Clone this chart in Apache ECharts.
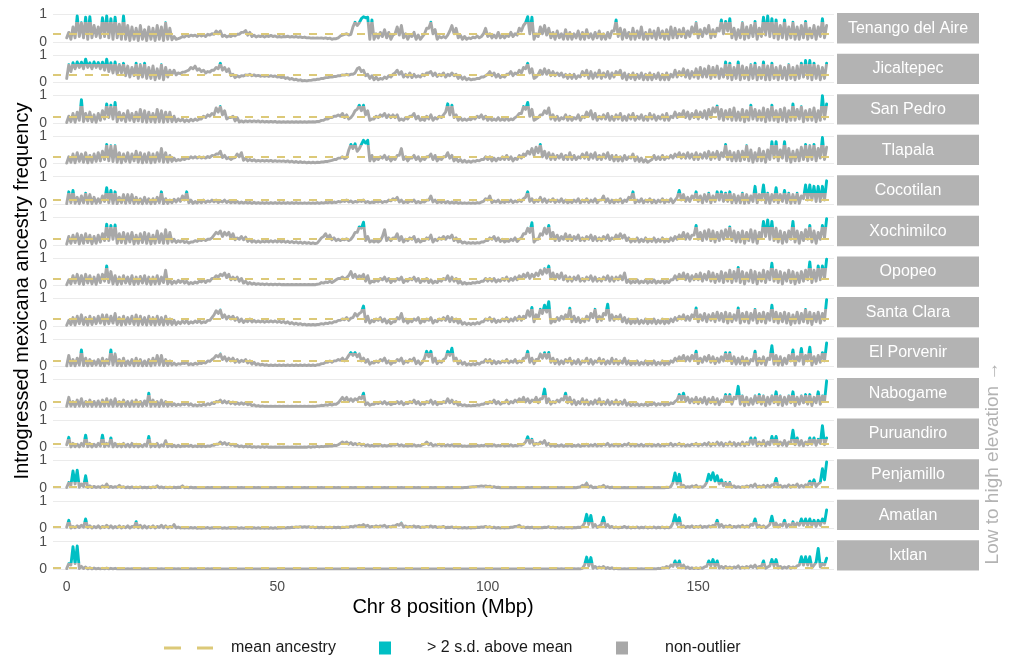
<!DOCTYPE html>
<html>
<head>
<meta charset="utf-8">
<title>Introgressed mexicana ancestry along chromosome 8</title>
<script src="https://cdn.jsdelivr.net/npm/echarts@6/dist/echarts.min.js"></script>
<style>
  html, body { margin: 0; padding: 0; background: #ffffff; }
  #chart { width: 1016px; height: 662px; }
</style>
</head>
<body>
<div id="chart"></div>
<script>
// Populations, ordered from low to high elevation (top to bottom of the facets)
const populations = ['Tenango del Aire', 'Jicaltepec', 'San Pedro', 'Tlapala', 'Cocotilan', 'Xochimilco',
  'Opopeo', 'Santa Clara', 'El Porvenir', 'Nabogame', 'Puruandiro', 'Penjamillo', 'Amatlan', 'Ixtlan'];

// Genome-wide mean ancestry and outlier cutoff (mean + 2 s.d.) for each population
const meanAncestry = [0.29, 0.29, 0.23, 0.26, 0.15, 0.23, 0.23, 0.24, 0.19, 0.18, 0.12, 0.04, 0.07, 0.035];
const outlierCutoff = [0.72, 0.68, 0.62, 0.66, 0.40, 0.64, 0.62, 0.62, 0.48, 0.44, 0.30, 0.22, 0.24, 0.22];

const xTickValues = [0, 50, 100, 150];

// Ancestry frequency (%) per 1 Mbp window along Chr 8 (0-180 Mbp): low and high within each window
const tenangoLo = [15,10,15,20,15,10,15,20,15,20, 15,10,15,10,10,5,10,5,10,5, 10,5,10,5,10,8,10,15,18,20,
  22,20,22,20,25,28,30,20,18,20, 22,28,35,25,20,18,20,18,20,20, 18,18,19,18,18,17,16,15,14,14,
  14,13,12,10,12,22,28,25,55,60, 85,88,10,10,15,20,15,10,30,25, 15,10,20,10,10,30,50,30,10,15,
  15,40,30,15,10,10,12,15,15,30, 20,15,15,15,15,20,20,25,40,70, 30,10,20,30,25,15,10,15,10,10,
  10,15,10,10,15,10,15,10,10,15, 40,20,10,15,10,10,15,10,10,15, 10,15,10,10,15,15,20,15,20,30,
  15,20,30,15,20,40,30,40,15,10, 15,10,15,20,10,20,25,20,15,10, 15,10,15,10,10,15,10,15,10,20, 15];
const tenangoHi = [35,55,95,70,90,92,60,55,88,95, 85,90,65,95,60,55,50,60,45,55, 50,60,55,70,50,20,12,20,25,25,
  25,27,26,28,30,40,40,25,22,25, 28,35,42,35,25,22,22,22,24,22, 20,20,21,20,20,19,18,16,15,15,
  15,15,14,12,15,25,30,28,72,70, 92,90,80,30,35,45,35,25,55,60, 30,25,35,25,20,50,72,45,20,20,
  25,60,50,25,20,15,18,22,20,50, 30,25,35,25,25,35,30,50,60,92, 90,30,55,60,50,35,40,30,45,35,
  30,40,35,45,30,35,40,30,35,40, 80,50,45,35,50,40,55,35,45,40, 50,40,45,55,50,45,50,40,55,70,
  45,50,60,45,50,80,75,85,50,45, 70,55,60,75,50,90,95,85,80,60, 80,55,72,55,60,75,50,60,55,85, 60];

const jicaltepecLo = [15,40,50,55,50,55,50,55,50,45, 40,35,30,35,25,20,25,15,20,15, 15,10,15,10,20,30,28,32,38,45,
  50,45,40,35,38,45,50,45,40,25, 18,20,24,26,25,24,23,23,22,22, 20,18,15,12,10,8,6,6,8,10,
  12,15,18,20,22,25,27,27,30,50, 40,25,15,10,10,12,15,20,35,30, 20,20,18,20,20,25,35,25,22,25,
  20,25,25,15,12,10,10,12,15,20, 30,25,20,18,20,30,25,30,35,50, 35,15,30,30,30,25,25,25,20,15,
  15,15,20,25,15,15,20,15,20,15, 20,30,15,10,15,10,15,10,10,10, 15,10,10,10,20,20,25,20,15,20,
  15,20,20,15,20,15,20,15,10,15, 10,15,10,15,10,15,10,10,15,10, 15,10,15,10,15,20,15,10,15,10, 15];
const jicaltepecHi = [65,72,75,74,85,72,75,73,74,85, 72,75,65,70,60,55,70,65,70,55, 60,50,65,55,45,45,35,38,42,55,
  60,50,45,40,45,55,70,55,50,30, 25,25,28,30,28,26,25,25,25,24, 22,20,18,15,12,10,8,8,10,12,
  15,18,20,22,25,28,30,30,35,55, 45,30,25,20,15,20,25,30,45,40, 30,35,30,25,30,35,40,35,30,35,
  30,35,30,25,20,15,12,15,20,25, 40,35,30,25,30,40,35,45,55,70, 50,20,45,50,45,40,35,35,30,30,
  30,25,40,45,40,35,45,35,40,35, 40,45,35,30,35,30,35,30,35,30, 35,30,35,30,45,40,50,45,40,50,
  55,50,60,55,60,50,75,70,55,75, 60,55,65,70,55,75,60,70,55,60, 55,65,55,60,70,80,80,70,60,55, 70];

const sanPedroLo = [2,5,3,10,5,8,5,3,10,15, 20,15,5,10,5,10,5,8,5,3, 5,3,5,3,5,5,5,8,5,6,
  8,10,15,20,25,30,40,30,15,20, 8,4,4,5,5,5,4,4,4,4, 3,3,3,3,3,3,3,3,4,4,
  6,10,15,20,25,25,20,15,30,50, 45,30,10,15,20,25,20,20,20,10, 10,15,25,15,10,10,15,10,15,20,
  40,30,20,10,10,10,12,15,20,15, 10,10,10,10,10,10,12,25,35,50, 25,10,20,30,35,15,10,10,15,10,
  10,15,10,20,25,15,10,15,15,10, 10,15,10,10,15,10,15,10,10,15, 10,15,10,10,20,20,25,20,15,20,
  15,20,15,20,40,15,10,15,10,10, 10,5,10,15,10,10,5,10,10,5, 10,5,10,10,15,5,10,10,5,10, 15];
const sanPedroHi = [25,35,40,85,35,40,30,35,45,70, 65,75,40,35,45,35,40,50,45,40, 35,50,45,40,40,25,15,15,12,14,
  15,15,25,30,35,55,60,45,20,25, 20,8,8,8,8,8,7,6,6,6, 5,5,5,5,5,5,5,5,5,6,
  10,15,20,25,30,35,30,20,45,65, 65,45,15,25,30,35,30,30,30,15, 20,25,35,25,15,25,30,20,25,30,
  70,65,30,20,15,15,20,25,30,25, 20,15,20,15,20,15,20,35,60,75, 50,15,30,45,55,30,25,20,30,25,
  20,30,25,40,45,35,25,30,35,25, 30,35,25,30,35,25,30,25,35,30, 25,30,35,25,40,35,45,40,35,45,
  40,45,50,55,62,50,45,50,55,40, 50,45,65,50,45,55,50,65,45,50, 55,45,70,50,60,45,50,55,45,100, 70];

const tlapalaLo = [2,5,3,8,5,3,5,8,10,15, 10,8,5,3,8,5,10,5,3,5, 3,5,8,5,5,8,10,12,15,18,
  20,20,20,20,22,28,35,22,18,15, 22,25,12,10,10,9,9,9,9,8, 8,8,7,6,5,4,4,3,3,3,
  4,6,8,12,15,20,18,50,55,45, 70,75,10,10,15,20,15,10,15,30, 15,10,20,15,10,15,25,15,10,15,
  25,20,10,8,6,5,5,8,10,15, 15,10,10,15,15,15,10,15,20,30, 35,30,40,25,20,15,15,20,15,15,
  15,15,20,20,15,20,15,15,20,15, 10,10,10,15,20,10,8,6,5,15, 15,15,15,20,20,25,20,20,20,15,
  15,20,20,15,20,15,25,15,10,10, 10,15,10,5,10,10,5,15,20,10, 20,10,5,10,10,15,10,15,10,20, 15];
const tlapalaHi = [25,35,40,35,40,30,35,40,45,70, 65,65,40,35,40,35,45,40,35,40, 35,40,55,40,30,20,15,18,20,25,
  25,25,24,26,30,35,45,30,22,20, 35,40,20,15,14,12,12,12,12,11, 10,10,10,9,8,7,6,5,5,5,
  6,8,10,15,20,25,22,70,72,55, 85,85,30,20,25,30,25,20,30,55, 25,20,30,25,20,25,35,30,20,25,
  40,30,20,15,12,10,10,12,15,25, 25,20,20,25,30,25,20,30,35,45, 55,60,70,45,40,35,30,35,30,40,
  30,25,35,40,35,40,30,35,40,30, 30,25,30,25,35,25,20,15,10,30, 25,30,25,30,35,40,35,40,35,40,
  35,40,45,40,45,40,70,45,40,45, 45,65,50,40,55,45,50,80,80,50, 80,55,45,50,60,70,65,70,55,95, 60];

const cocotilanLo = [2,5,3,2,5,3,2,3,5,10, 5,3,2,5,3,5,2,3,2,3, 2,3,5,2,3,5,8,10,15,5,
  3,4,5,6,8,8,6,8,6,5, 5,4,4,4,3,3,3,3,3,3, 3,3,3,3,3,3,3,3,3,3,
  3,4,5,5,6,8,10,8,6,8, 10,6,5,6,8,6,8,12,15,8, 5,6,10,5,5,8,15,8,5,6,
  5,4,4,3,3,3,3,3,4,10, 15,6,8,5,6,8,6,8,10,25, 10,6,10,8,6,10,6,8,6,5,
  6,8,5,8,6,8,5,15,8,5, 5,8,5,10,20,5,8,5,8,5, 5,8,5,8,5,25,15,10,10,20,
  10,5,10,5,10,15,10,10,5,5, 5,3,5,10,5,15,5,3,10,5, 10,5,3,5,3,20,15,15,10,10, 15];
const cocotilanHi = [45,50,25,30,40,35,25,20,30,60, 50,45,25,35,35,35,25,20,25,20, 20,25,45,20,15,18,20,30,45,15,
  10,12,15,12,15,15,12,15,12,10, 10,8,8,7,7,6,6,6,6,6, 6,6,6,6,6,5,5,5,5,6,
  6,7,8,8,10,12,15,12,10,12, 15,10,8,10,12,10,15,20,25,15, 10,12,15,10,10,15,30,15,10,12,
  10,8,8,6,5,5,5,6,8,20, 30,12,15,10,12,15,12,15,20,45, 20,15,25,20,15,20,15,20,15,12,
  15,20,15,20,15,20,15,30,20,15, 15,20,15,25,45,15,20,15,20,15, 15,20,15,20,15,50,35,25,30,45,
  30,35,40,30,45,45,40,45,35,30, 40,35,30,65,35,70,40,35,60,35, 50,40,35,40,30,70,70,65,65,65, 85];

const xochimilcoLo = [2,5,8,3,5,8,3,5,10,15, 15,20,5,8,5,10,3,5,8,5, 3,5,8,5,5,10,8,10,8,6,
  10,12,15,15,20,35,40,30,35,25, 18,20,18,12,10,9,9,10,10,10, 10,10,9,8,7,6,5,5,4,4,
  15,30,25,18,15,15,18,15,30,45, 60,15,10,10,10,30,15,15,25,15, 10,15,20,10,10,15,20,10,15,20,
  20,25,15,10,6,5,5,5,6,10, 15,20,15,12,10,12,15,12,25,40, 45,10,20,35,40,25,15,15,20,15,
  15,20,15,15,20,15,15,15,20,15, 20,25,25,15,10,12,10,12,10,12, 10,12,10,12,15,20,25,20,20,35,
  20,15,20,15,10,15,20,25,15,10, 10,5,15,10,5,25,30,20,15,10, 5,10,20,10,5,15,20,10,5,20, 25];
const xochimilcoHi = [30,35,40,35,40,35,30,35,40,75, 70,72,40,45,40,45,35,40,45,40, 35,50,40,55,45,20,15,18,12,10,
  15,18,20,20,25,45,50,45,45,40, 25,30,28,20,15,14,13,14,15,15, 15,14,13,12,11,10,9,8,7,6,
  25,40,35,25,20,20,22,20,45,65, 82,30,15,15,15,55,25,25,40,30, 20,25,30,20,15,25,35,20,25,30,
  30,35,25,15,10,8,8,8,10,15, 25,30,25,20,15,20,25,20,40,60, 80,20,40,60,70,45,35,30,40,35,
  30,35,25,30,35,30,25,30,35,25, 35,40,35,25,20,25,20,25,20,25, 20,25,20,25,30,35,45,40,35,70,
  45,50,55,50,45,50,55,65,50,45, 50,45,55,50,45,85,90,85,60,50, 45,50,85,50,45,55,70,50,45,70, 95];

const opopeoLo = [2,5,8,5,3,8,5,3,10,15, 10,5,3,5,8,5,3,5,8,5, 3,5,5,10,5,5,8,10,8,5,
  6,8,12,10,15,25,30,35,28,20, 20,15,8,5,4,3,3,2,2,2, 2,2,2,2,2,2,2,2,2,2,
  5,8,10,10,20,25,22,35,28,25, 30,15,8,12,15,20,15,10,15,20, 10,15,20,15,10,15,10,8,10,15,
  20,15,15,8,5,5,6,8,10,15, 15,15,12,15,18,15,18,20,25,30, 25,30,35,40,45,25,20,25,20,15,
  15,20,15,15,20,15,15,15,20,15, 15,20,20,10,8,10,8,10,8,10, 8,10,8,10,20,20,25,20,15,20,
  20,15,20,15,10,15,10,15,10,15, 10,5,15,10,5,15,10,20,15,10, 5,15,10,5,10,15,20,10,15,20, 25];
const opopeoHi = [20,35,40,35,40,35,30,38,40,70, 50,35,30,35,30,35,30,32,35,30, 30,35,30,55,20,15,18,20,15,10,
  12,15,20,18,25,35,40,45,40,30, 30,25,15,10,8,6,5,5,4,4, 4,3,3,3,3,3,3,3,3,4,
  10,12,15,15,25,30,28,50,40,35, 40,35,15,20,25,30,25,20,25,30, 20,25,30,25,20,25,20,15,20,25,
  35,30,25,15,10,8,10,12,15,25, 25,25,20,25,30,25,30,35,40,45, 40,45,55,60,70,45,40,45,35,30,
  30,35,25,30,35,30,25,30,35,30, 30,35,45,20,15,20,15,20,15,20, 15,20,15,20,35,40,45,40,35,40,
  45,40,50,45,40,50,45,55,50,65, 50,45,55,50,45,55,50,80,55,50, 45,55,50,45,50,55,85,55,70,70, 95];

const santaClaraLo = [2,5,3,8,5,3,5,8,10,5, 8,10,5,3,5,8,5,3,5,3, 5,3,5,3,5,5,5,8,10,8,
  10,12,10,12,20,40,45,30,25,25, 20,15,12,15,14,14,14,13,14,14, 13,12,10,8,6,5,4,3,3,3,
  5,6,8,10,15,20,22,20,30,35, 50,15,10,15,20,15,10,8,15,25, 15,10,15,20,10,15,20,10,15,20,
  20,15,15,10,6,5,5,6,8,15, 20,15,12,15,18,15,18,20,20,30, 35,15,30,45,50,10,15,20,25,30,
  15,15,12,15,20,30,15,20,40,20, 20,25,15,10,8,10,8,10,8,10, 8,10,8,10,15,20,25,20,20,30,
  15,20,15,20,15,20,15,10,15,20, 10,15,10,20,10,15,10,20,15,10, 15,10,5,10,10,15,10,5,15,10, 20];
const santaClaraHi = [20,30,35,40,30,35,30,35,40,40, 35,45,30,35,30,35,40,35,30,35, 30,35,30,35,25,20,15,18,20,15,
  18,20,15,20,30,55,58,40,35,35, 30,25,20,25,20,18,18,17,18,18, 17,16,15,12,10,8,6,5,5,5,
  8,10,12,15,20,25,30,28,45,45, 72,35,20,25,30,25,20,15,30,45, 25,20,25,30,20,25,30,20,25,30,
  35,30,25,20,12,10,10,12,15,25, 30,25,20,25,30,25,30,35,35,55, 67,40,60,75,88,20,30,35,40,64,
  35,30,25,35,45,60,35,45,79,40, 35,40,30,25,20,25,20,25,20,25, 20,25,20,25,30,35,40,35,40,65,
  40,45,40,45,50,45,50,45,40,65, 45,50,45,60,45,50,45,75,50,45, 50,45,40,50,45,60,50,45,50,45, 95];

const elPorvenirLo = [2,3,2,5,3,2,3,5,3,2, 8,5,3,2,3,5,2,3,2,3, 2,5,5,3,3,5,5,8,10,6,
  6,8,10,12,18,30,35,25,20,20, 15,15,18,12,8,6,5,4,3,3, 3,3,3,3,3,3,3,3,3,3,
  6,10,15,15,20,22,20,40,40,35, 20,15,8,12,15,20,12,8,15,20, 10,15,20,10,8,30,35,15,10,15,
  30,40,20,10,8,5,5,6,8,15, 15,10,10,12,15,12,15,12,15,30, 15,10,25,30,30,15,10,8,10,15,
  8,10,8,15,10,8,15,10,8,10, 10,8,12,8,6,8,6,8,6,8, 6,8,6,8,15,20,25,20,20,25,
  10,15,20,15,10,15,20,20,10,8, 10,5,8,20,5,10,5,25,8,5, 5,10,20,5,20,8,20,5,10,15, 20];
const elPorvenirHi = [40,25,30,60,30,25,20,25,30,25, 60,45,25,30,20,25,30,25,20,25, 30,40,40,25,20,12,10,12,15,10,
  12,12,15,20,25,40,45,35,30,30, 25,22,25,20,15,10,8,6,5,5, 5,5,5,5,5,5,5,5,5,6,
  10,15,20,20,25,30,28,50,50,45, 30,25,15,20,25,30,20,15,25,30, 20,25,30,20,15,55,55,30,20,25,
  55,66,30,20,15,10,10,12,15,25, 25,20,18,20,25,20,25,20,30,55, 30,25,45,50,51,30,25,20,25,30,
  20,25,20,30,25,20,30,25,20,30, 25,20,30,20,15,20,15,20,15,20, 15,20,15,20,30,35,40,35,40,55,
  30,35,40,35,30,35,50,50,35,30, 35,30,25,55,30,35,30,75,40,35, 30,40,60,35,65,40,70,35,40,50, 85];

const nabogameLo = [2,3,2,3,2,3,2,3,2,3, 3,2,3,2,3,2,3,2,3,5, 2,3,2,3,3,5,5,6,8,6,
  4,4,5,6,8,12,18,15,14,12, 10,10,10,8,5,3,2,2,2,2, 2,2,2,2,2,2,2,2,2,2,
  4,5,6,7,10,25,25,20,20,25, 30,8,6,10,12,12,10,8,12,12, 8,12,15,12,8,10,15,10,8,12,
  15,15,12,6,5,4,4,5,6,10, 12,15,12,10,15,12,15,18,20,18, 15,20,15,30,15,10,15,18,25,15,
  10,8,12,10,8,10,12,8,10,8, 10,8,10,6,5,6,5,6,5,8, 6,8,6,8,12,25,25,20,15,15,
  12,15,10,15,10,8,20,20,10,30, 10,5,8,10,15,10,5,10,15,8, 5,10,15,5,10,15,10,5,15,10, 20];
const nabogameHi = [35,20,25,30,20,25,20,22,25,30, 25,30,20,25,20,22,25,20,22,50, 25,20,25,20,15,12,10,12,15,12,
  8,8,10,12,15,20,25,22,20,18, 15,15,15,12,8,5,4,3,3,3, 3,3,3,3,3,3,3,3,3,4,
  6,8,10,10,15,35,35,30,30,35, 50,15,10,15,18,20,15,12,20,20, 15,20,25,20,15,20,25,20,15,20,
  30,25,20,10,8,6,6,8,10,15, 20,25,20,15,25,20,25,30,35,30, 25,35,30,65,30,20,25,30,50,35,
  25,20,30,25,20,25,30,20,25,20, 25,20,25,15,10,12,10,12,10,15, 12,15,12,15,20,45,50,35,30,35,
  30,35,30,35,30,25,45,45,35,75, 40,35,30,40,45,40,35,40,55,40, 35,40,55,35,40,45,45,35,55,40, 95];

const puruandiroLo = [10,2,3,2,5,3,2,3,5,3, 5,2,3,2,3,2,3,2,3,5, 2,3,2,5,3,3,3,3,4,4,
  3,3,3,3,4,8,12,12,10,8, 5,3,2,2,1,1,1,1,1,1, 1,1,1,1,1,1,1,1,1,2,
  2,3,4,5,7,15,15,12,10,10, 8,6,5,5,6,5,5,6,8,6, 5,5,6,5,6,12,10,6,8,6,
  6,6,5,5,4,4,4,5,5,6, 5,6,5,6,5,6,5,6,8,20, 15,8,12,15,8,5,4,5,4,5,
  4,5,4,6,5,6,5,6,8,5, 6,5,6,8,6,5,6,5,6,5, 6,5,6,8,6,8,6,5,6,8,
  6,8,8,6,8,8,6,8,8,6, 8,6,10,12,6,8,6,10,12,6, 8,6,15,10,8,6,10,12,8,15, 10];
const puruandiroHi = [37,15,12,15,45,15,12,15,45,15, 35,15,12,15,12,15,12,10,12,40, 12,15,10,25,10,8,8,6,8,8,
  6,6,6,6,8,12,20,18,15,12, 8,6,5,4,3,3,3,3,2,2, 2,2,2,2,2,2,2,3,3,4,
  4,5,6,8,10,20,20,18,15,15, 12,10,8,8,10,8,8,10,12,10, 8,8,10,8,10,20,15,10,12,10,
  10,10,8,8,6,6,6,8,8,10, 8,10,8,10,8,10,8,10,12,39, 30,15,20,25,15,10,8,10,8,10,
  8,10,8,12,10,12,10,12,15,10, 12,10,12,15,12,10,12,10,12,10, 12,10,12,15,12,15,12,10,12,15,
  12,15,18,15,20,18,15,20,18,15, 20,18,35,35,20,25,20,40,40,20, 25,20,63,35,25,20,35,35,30,79, 35];

const penjamilloLo = [2,10,15,3,5,2,2,2,2,3, 2,2,3,2,1,1,1,1,1,1, 1,2,1,1,1,1,1,2,1,1,
  1,1,1,1,1,1,1,1,1,1, 1,1,1,1,1,1,1,1,1,1, 1,1,1,1,1,1,1,1,1,1,
  1,1,1,1,1,1,1,1,1,1, 1,1,1,1,1,1,1,1,1,1, 1,1,1,1,1,1,1,1,1,1,
  1,1,1,1,1,2,4,5,6,6, 5,3,2,1,1,1,1,1,1,1, 1,1,1,1,1,1,1,1,1,1,
  1,1,4,8,3,1,2,4,2,1, 1,1,1,1,1,1,1,1,1,1, 1,1,1,2,20,15,4,2,3,4,
  2,3,20,30,25,15,8,8,3,2, 2,3,4,5,3,3,3,4,10,4, 3,4,3,5,3,4,8,10,5,20, 30];
const penjamilloHi = [20,62,65,15,45,8,6,5,8,15, 6,5,10,5,4,4,3,4,3,3, 4,8,4,3,3,3,3,8,3,3,
  2,2,2,2,2,2,2,2,2,2, 2,2,2,2,2,2,2,2,2,2, 2,2,2,2,2,2,2,2,2,2,
  2,2,2,2,2,2,2,2,2,2, 2,2,2,2,2,2,2,2,2,2, 2,2,2,2,2,2,2,2,2,2,
  2,2,2,2,2,3,5,6,8,8, 7,5,3,2,2,2,2,2,2,2, 2,2,2,2,2,2,2,2,2,2,
  2,3,10,18,8,3,5,10,5,3, 2,2,2,2,2,2,2,2,2,2, 2,2,3,5,55,50,10,5,8,10,
  5,8,50,56,45,30,20,20,8,5, 5,8,10,15,8,10,10,12,35,10, 8,12,10,15,10,12,25,30,15,70, 95];

const amatlanLo = [5,2,3,4,5,3,2,3,2,4, 3,2,3,2,3,2,5,3,2,2, 3,2,4,3,2,4,2,2,2,2,
  2,1,1,2,1,2,2,1,1,1, 1,1,1,1,1,1,1,1,1,1, 1,2,2,3,4,5,5,5,4,3,
  3,3,3,3,3,3,4,5,6,8, 10,8,5,6,6,8,5,6,10,12, 6,5,6,5,4,5,6,5,4,5,
  3,4,3,2,2,2,2,3,4,5, 4,3,2,2,2,3,5,8,4,3, 3,2,2,3,4,3,2,2,2,2,
  2,3,4,20,15,6,4,15,6,4, 3,2,4,3,2,3,2,3,2,3, 2,3,2,3,20,15,5,4,5,4,
  5,4,5,6,10,6,5,6,4,5, 6,5,6,12,5,4,3,15,8,6, 10,6,8,8,12,12,10,10,8,12, 20];
const amatlanHi = [30,8,10,12,35,10,8,10,8,12, 10,8,10,8,10,8,25,12,10,8, 10,8,12,10,8,15,6,4,4,4,
  4,3,3,4,3,4,4,3,3,3, 3,3,3,3,3,3,3,3,3,3, 3,4,4,5,6,7,7,7,6,5,
  5,5,5,5,5,5,6,8,10,12, 15,12,8,10,10,12,8,10,15,20, 10,8,10,8,6,8,10,8,6,8,
  5,6,5,4,4,4,4,5,6,8, 7,5,4,4,4,5,8,12,6,5, 5,4,4,5,7,5,4,4,4,4,
  4,5,8,52,48,15,10,41,15,8, 6,5,8,6,5,6,5,6,5,6, 5,6,5,6,50,40,10,8,10,8,
  10,8,10,12,30,15,10,12,8,10, 12,10,15,35,12,10,8,45,20,15, 30,15,25,20,35,35,35,30,30,35, 68];

const ixtlanLo = [2,15,20,2,2,1,1,1,1,1, 1,1,1,1,1,1,1,1,1,1, 1,1,1,1,1,1,1,1,1,1,
  1,1,1,1,1,1,1,1,1,1, 1,1,1,1,1,1,1,1,1,1, 1,1,1,1,1,1,1,1,1,1,
  1,1,1,1,1,1,1,1,1,1, 1,1,1,1,1,1,1,1,1,1, 1,1,1,1,1,1,1,1,1,1,
  1,1,1,1,1,1,1,1,1,1, 1,1,1,1,1,1,1,1,1,1, 1,1,1,1,1,1,1,1,1,1,
  1,1,1,15,12,3,3,4,2,2, 1,1,1,1,1,1,1,1,1,1, 1,2,4,5,10,10,5,3,2,2,
  2,3,10,12,10,4,4,3,3,5, 3,4,5,6,4,10,3,12,12,4, 3,4,3,5,15,15,15,5,25,8, 15];
const ixtlanHi = [20,82,84,10,8,5,4,3,3,4, 3,3,2,2,2,2,2,2,2,2, 2,2,2,2,2,2,2,2,2,2,
  2,2,2,2,2,1,1,1,1,1, 1,1,1,1,1,1,1,1,1,1, 1,1,1,1,1,1,1,1,1,1,
  1,1,1,1,1,1,1,1,1,1, 1,1,1,1,1,1,1,1,1,1, 1,1,1,1,1,1,1,1,1,1,
  1,1,1,1,1,1,1,1,1,1, 1,1,1,1,1,1,1,1,1,1, 1,1,1,1,1,1,2,2,2,2,
  2,2,3,44,42,10,8,10,6,5, 3,2,2,2,2,2,2,2,2,2, 3,5,10,15,30,30,15,8,5,5,
  5,8,30,35,30,10,10,8,8,12, 8,10,12,15,10,30,8,35,35,10, 8,10,8,12,45,45,45,15,75,20, 40];

const windowLow = [tenangoLo, jicaltepecLo, sanPedroLo, tlapalaLo, cocotilanLo, xochimilcoLo, opopeoLo,
  santaClaraLo, elPorvenirLo, nabogameLo, puruandiroLo, penjamilloLo, amatlanLo, ixtlanLo];
const windowHigh = [tenangoHi, jicaltepecHi, sanPedroHi, tlapalaHi, cocotilanHi, xochimilcoHi, opopeoHi,
  santaClaraHi, elPorvenirHi, nabogameHi, puruandiroHi, penjamilloHi, amatlanHi, ixtlanHi];

// Styling
const FONT = '"Liberation Sans", Arial, Helvetica, sans-serif';
const GREY = '#A8A8A8';
const TEAL = '#00BFC4';
const KHAKI = '#DCC978';
const STRIP = '#B3B3B3';

// Facet geometry (pixels): y = 1 line of the first panel, spacing between panels, 0-1 span
const PANEL_Y1 = 14.5;
const PANEL_STEP = 40.55;
const PANEL_SPAN = 27.5;
const PANEL_LEFT = 53;
const PANEL_WIDTH = 781;

const grids = [], xAxes = [], yAxes = [], series = [], visualMaps = [], graphics = [];

populations.forEach((name, k) => {
  const top = PANEL_Y1 + k * PANEL_STEP;
  const last = k === populations.length - 1;
  grids.push({ left: PANEL_LEFT, width: PANEL_WIDTH, top: top, height: PANEL_SPAN });
  xAxes.push({
    type: 'value', gridIndex: k, min: -3.25, max: 182.25,
    axisLine: { show: false }, axisTick: { show: false }, splitLine: { show: false },
    axisLabel: last
      ? { show: true, customValues: xTickValues, color: '#4D4D4D', fontSize: 14, margin: 11, fontFamily: FONT }
      : { show: false }
  });
  yAxes.push({
    type: 'value', gridIndex: k, min: 0, max: 1, interval: 1,
    axisLine: { show: false }, axisTick: { show: false },
    splitLine: { show: true, lineStyle: { color: '#EBEBEB', width: 1.2 } },
    axisLabel: { color: '#4D4D4D', fontSize: 14, margin: 6, fontFamily: FONT }
  });

  // low / high of each window, giving the jagged trace along the chromosome
  const pts = [];
  windowLow[k].forEach((lo, i) => {
    pts.push([i, lo / 100]);
    pts.push([i + 0.5, windowHigh[k][i] / 100]);
  });
  series.push({
    type: 'line', name: name, xAxisIndex: k, yAxisIndex: k, data: pts,
    symbol: 'none', showSymbol: false, clip: false, silent: true, z: 2,
    lineStyle: { width: 2.9, join: 'round', cap: 'round' }
  });
  // grey below the outlier cutoff, teal above it
  visualMaps.push({
    type: 'piecewise', show: false, seriesIndex: series.length - 1, dimension: 1,
    pieces: [
      { gte: -1, lt: outlierCutoff[k], color: GREY },
      { gte: outlierCutoff[k], lte: 2, color: TEAL }
    ],
    outOfRange: { color: GREY }
  });
  // mean ancestry reference line
  series.push({
    type: 'line', xAxisIndex: k, yAxisIndex: k, data: [], z: 5, silent: true,
    markLine: {
      silent: true, symbol: 'none', label: { show: false },
      lineStyle: { color: KHAKI, type: [8, 8], width: 2 },
      emphasis: { disabled: true },
      data: [{ yAxis: meanAncestry[k] }]
    }
  });

  // facet strip
  graphics.push({
    type: 'rect', left: 837, top: top - 1.4, shape: { width: 142, height: 30.3 },
    style: { fill: STRIP }, silent: true
  });
  graphics.push({
    type: 'text', x: 908, y: top - 1.4 + 15.4,
    style: { text: name, fill: '#FFFFFF', font: '16px ' + FONT, textAlign: 'center', textVerticalAlign: 'middle' },
    silent: true
  });
});

// axis titles and side note
graphics.push({
  type: 'text', x: 22, y: 291, rotation: Math.PI / 2,
  style: { text: 'Introgressed mexicana ancestry frequency', fill: '#000000', font: '20px ' + FONT,
    textAlign: 'center', textVerticalAlign: 'middle' }
});
graphics.push({
  type: 'text', x: 443, y: 607,
  style: { text: 'Chr 8 position (Mbp)', fill: '#000000', font: '20px ' + FONT,
    textAlign: 'center', textVerticalAlign: 'middle' }
});
graphics.push({
  type: 'text', x: 993, y: 463, rotation: Math.PI / 2,
  style: { text: 'Low to high elevation \u2192', fill: STRIP, font: '19px ' + FONT,
    textAlign: 'center', textVerticalAlign: 'middle' }
});

// legend
const LEG_Y = 648;
graphics.push({
  type: 'line', shape: { x1: 164, y1: LEG_Y, x2: 213, y2: LEG_Y },
  style: { stroke: KHAKI, lineWidth: 3, lineDash: [17, 16] }
});
graphics.push({ type: 'text', x: 231, y: LEG_Y,
  style: { text: 'mean ancestry', fill: '#1A1A1A', font: '16px ' + FONT, textVerticalAlign: 'middle' } });
graphics.push({ type: 'rect', shape: { x: 379, y: LEG_Y - 6.5, width: 12, height: 13 }, style: { fill: TEAL } });
graphics.push({ type: 'text', x: 427, y: LEG_Y,
  style: { text: '> 2 s.d. above mean', fill: '#1A1A1A', font: '16px ' + FONT, textVerticalAlign: 'middle' } });
graphics.push({ type: 'rect', shape: { x: 616, y: LEG_Y - 6.5, width: 12, height: 13 }, style: { fill: GREY } });
graphics.push({ type: 'text', x: 665, y: LEG_Y,
  style: { text: 'non-outlier', fill: '#1A1A1A', font: '16px ' + FONT, textVerticalAlign: 'middle' } });

const chart = echarts.init(document.getElementById('chart'), null, { renderer: 'canvas' });
chart.setOption({
  animation: false,
  backgroundColor: '#FFFFFF',
  textStyle: { fontFamily: FONT },
  grid: grids,
  xAxis: xAxes,
  yAxis: yAxes,
  visualMap: visualMaps,
  series: series,
  graphic: graphics
});
</script>
</body>
</html>
